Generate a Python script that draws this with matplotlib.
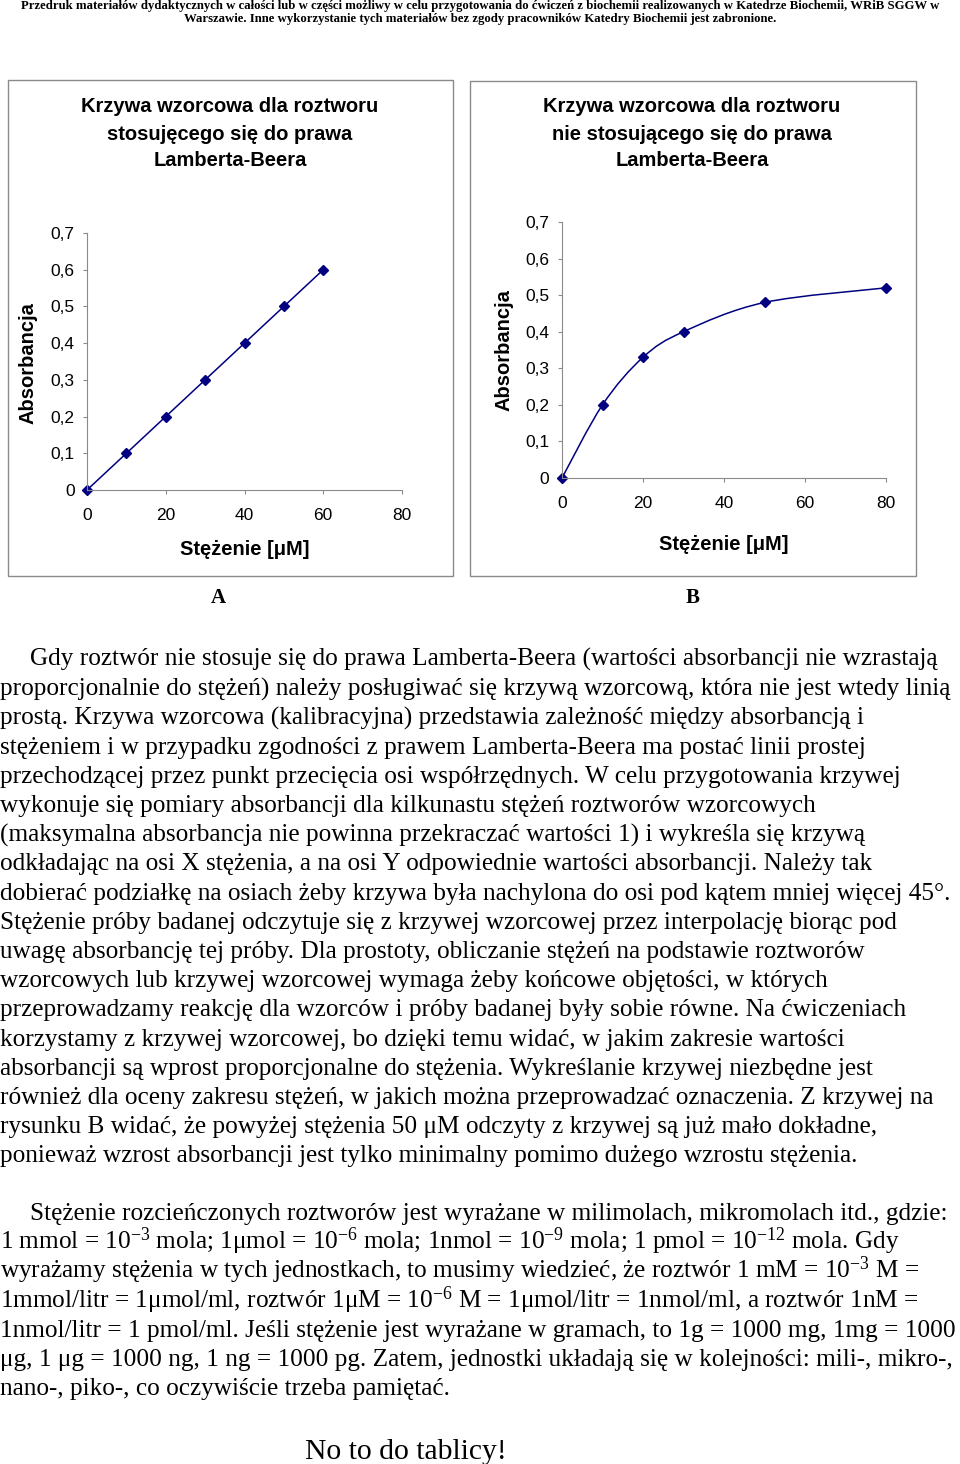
import matplotlib
matplotlib.use("Agg")
import matplotlib.pyplot as plt
from matplotlib.path import Path
from matplotlib.patches import PathPatch, Rectangle

plt.rcParams['mathtext.fontset'] = 'custom'
plt.rcParams['mathtext.rm'] = 'Liberation Serif'
plt.rcParams['mathtext.default'] = 'regular'

W, H = 960, 1464
NAVY = '#000080'
GRAY = '#8a8a8a'
SANS = 'Liberation Sans'
SERIF = 'Liberation Serif'

# dane wykresow
stezenie_a = [0, 10, 20, 30, 40, 50, 60]
absorbancja_a = [0, 0.1, 0.2, 0.3, 0.4, 0.5, 0.6]
stezenie_b = [0, 10, 20, 30, 50, 80]
absorbancja_b = [0, 0.2, 0.33, 0.4, 0.48, 0.52]

y_ticks = [0, 0.1, 0.2, 0.3, 0.4, 0.5, 0.6, 0.7]
y_tick_labels = ['0', '0,1', '0,2', '0,3', '0,4', '0,5', '0,6', '0,7']
x_ticks = [0, 20, 40, 60, 80]
x_tick_labels = ['0', '20', '40', '60', '80']

tytul_a = ['Krzywa wzorcowa dla roztworu', 'stosujęcego się do prawa', 'Lamberta-Beera']
tytul_b = ['Krzywa wzorcowa dla roztworu', 'nie stosującego się do prawa', 'Lamberta-Beera']

naglowek = [
    'Przedruk materiałów dydaktycznych w całości lub w części możliwy w celu przygotowania do ćwiczeń z biochemii realizowanych w Katedrze Biochemii, WRiB SGGW w',
    'Warszawie. Inne wykorzystanie tych materiałów bez zgody pracowników Katedry Biochemii jest zabronione.',
]

akapit1 = [
    'Gdy roztwór nie stosuje się do prawa Lamberta-Beera (wartości absorbancji nie wzrastają',
    'proporcjonalnie do stężeń) należy posługiwać się krzywą wzorcową, która nie jest wtedy linią',
    'prostą. Krzywa wzorcowa (kalibracyjna) przedstawia zależność między absorbancją i',
    'stężeniem i w przypadku zgodności z prawem Lamberta-Beera ma postać linii prostej',
    'przechodzącej przez punkt przecięcia osi współrzędnych. W celu przygotowania krzywej',
    'wykonuje się pomiary absorbancji dla kilkunastu stężeń roztworów wzorcowych',
    '(maksymalna absorbancja nie powinna przekraczać wartości 1) i wykreśla się krzywą',
    'odkładając na osi X stężenia, a na osi Y odpowiednie wartości absorbancji. Należy tak',
    'dobierać podziałkę na osiach żeby krzywa była nachylona do osi pod kątem mniej więcej 45°.',
    'Stężenie próby badanej odczytuje się z krzywej wzorcowej przez interpolację biorąc pod',
    'uwagę absorbancję tej próby. Dla prostoty, obliczanie stężeń na podstawie roztworów',
    'wzorcowych lub krzywej wzorcowej wymaga żeby końcowe objętości, w których',
    'przeprowadzamy reakcję dla wzorców i próby badanej były sobie równe. Na ćwiczeniach',
    'korzystamy z krzywej wzorcowej, bo dzięki temu widać, w jakim zakresie wartości',
    'absorbancji są wprost proporcjonalne do stężenia. Wykreślanie krzywej niezbędne jest',
    'również dla oceny zakresu stężeń, w jakich można przeprowadzać oznaczenia. Z krzywej na',
    'rysunku B widać, że powyżej stężenia 50 μM odczyty z krzywej są już mało dokładne,',
    'ponieważ wzrost absorbancji jest tylko minimalny pomimo dużego wzrostu stężenia.',
]

akapit2 = [
    'Stężenie rozcieńczonych roztworów jest wyrażane w milimolach, mikromolach itd., gdzie:',
    '1 mmol = 10$^{-3}$ mola; 1μmol = 10$^{-6}$ mola; 1nmol = 10$^{-9}$ mola; 1 pmol = 10$^{-12}$ mola. Gdy',
    'wyrażamy stężenia w tych jednostkach, to musimy wiedzieć, że roztwór 1 mM = 10$^{-3}$ M =',
    '1mmol/litr = 1μmol/ml, roztwór 1μM = 10$^{-6}$ M = 1μmol/litr = 1nmol/ml, a roztwór 1nM =',
    '1nmol/litr = 1 pmol/ml. Jeśli stężenie jest wyrażane w gramach, to 1g = 1000 mg, 1mg = 1000',
    'μg, 1 μg = 1000 ng, 1 ng = 1000 pg. Zatem, jednostki układają się w kolejności: mili-, mikro-,',
    'nano-, piko-, co oczywiście trzeba pamiętać.',
]


def fx(px):
    return px / W


def fy(py):
    return 1 - py / H


def prostokat(l, t, r, b):
    return [l / W, 1 - b / H, (r - l) / W, (b - t) / H]


def krzywa_gladka(xs, ys):
    # krzywa Beziera przez punkty (jak wygladzona linia w Excelu)
    pts = list(zip(xs, ys))
    verts = [pts[0]]
    codes = [Path.MOVETO]
    n = len(pts)
    for i in range(n - 1):
        p0 = pts[max(i - 1, 0)]
        p1 = pts[i]
        p2 = pts[i + 1]
        p3 = pts[min(i + 2, n - 1)]
        c1 = (p1[0] + (p2[0] - p0[0]) / 6, p1[1] + (p2[1] - p0[1]) / 6)
        c2 = (p2[0] - (p3[0] - p1[0]) / 6, p2[1] - (p3[1] - p1[1]) / 6)
        verts += [c1, c2, p2]
        codes += [Path.CURVE4] * 3
    return Path(verts, codes)


fig = plt.figure(figsize=(W / 100, H / 100), dpi=100)

# naglowek
for i, linia in enumerate(naglowek):
    fig.text(fx(480), fy(6 + 13 * i), linia, ha='center', va='center',
             family=SERIF, fontweight='bold', fontsize=9.2)

# ramki wykresow
for l, t, r, b in [(8, 80, 453, 576), (470, 81, 916, 576)]:
    fig.patches.append(Rectangle((fx(l), fy(b)), (r - l) / W, (b - t) / H,
                                 transform=fig.transFigure, fill=False,
                                 edgecolor=GRAY, linewidth=1))


def rysuj_os(ax):
    ax.set_xlim(0, 80)
    ax.set_ylim(0, 0.7)
    for s in ['top', 'right']:
        ax.spines[s].set_visible(False)
    for s in ['left', 'bottom']:
        ax.spines[s].set_color(GRAY)
        ax.spines[s].set_linewidth(0.8)
    ax.set_yticks(y_ticks)
    ax.set_yticklabels(y_tick_labels)
    ax.set_xticks(x_ticks)
    ax.set_xticklabels(x_tick_labels)
    ax.tick_params(axis='both', direction='out', length=3, width=0.8,
                   color=GRAY, labelsize=12.5)
    ax.tick_params(axis='y', pad=6)
    ax.tick_params(axis='x', pad=10)
    for lab in ax.get_xticklabels() + ax.get_yticklabels():
        lab.set_family(SANS)
    ax.patch.set_alpha(0)


# wykres A
ax1 = fig.add_axes(prostokat(87, 233, 402, 490))
rysuj_os(ax1)
ax1.plot(stezenie_a, absorbancja_a, color=NAVY, linewidth=1.1, marker='D',
         markersize=5.5, clip_on=False)

# wykres B
ax2 = fig.add_axes(prostokat(562, 222, 886, 478))
rysuj_os(ax2)
ax2.add_patch(PathPatch(krzywa_gladka(stezenie_b, absorbancja_b), fill=False,
                        edgecolor=NAVY, linewidth=1.1, clip_on=False))
ax2.plot(stezenie_b, absorbancja_b, linestyle='none', color=NAVY, marker='D',
         markersize=5.5, clip_on=False)

# tytuly i opisy osi
for tytul, cx in [(tytul_a, 230), (tytul_b, 692)]:
    for i, linia in enumerate(tytul):
        fig.text(fx(cx), fy(107 + 27 * i), linia, ha='center', va='center',
                 family=SANS, fontweight='bold', fontsize=14.5)

fig.text(fx(28), fy(363), 'Absorbancja', rotation=90, ha='center', va='center',
         family=SANS, fontweight='bold', fontsize=14.5)
fig.text(fx(504), fy(350), 'Absorbancja', rotation=90, ha='center', va='center',
         family=SANS, fontweight='bold', fontsize=14.5)
fig.text(fx(245), fy(550), 'Stężenie [μM]', ha='center', va='center',
         family=SANS, fontweight='bold', fontsize=14.5)
fig.text(fx(724), fy(545), 'Stężenie [μM]', ha='center', va='center',
         family=SANS, fontweight='bold', fontsize=14.5)

fig.text(fx(218), fy(598), 'A', ha='center', va='center', family=SERIF,
         fontweight='bold', fontsize=15)
fig.text(fx(693), fy(598), 'B', ha='center', va='center', family=SERIF,
         fontweight='bold', fontsize=15)

# tekst
for i, linia in enumerate(akapit1):
    x0 = 30 if i == 0 else 0
    fig.text(fx(x0), fy(666 + 29.2 * i), linia, ha='left', va='baseline',
             family=SERIF, fontsize=18.2)

for i, linia in enumerate(akapit2):
    x0 = 30 if i == 0 else 0
    fig.text(fx(x0), fy(1220 + 29.2 * i), linia, ha='left', va='baseline',
             family=SERIF, fontsize=18.2)

fig.text(fx(305), fy(1459), 'No to do tablicy!', ha='left', va='baseline',
         family=SERIF, fontsize=21.3)

fig.savefig('out.png', dpi=100)
